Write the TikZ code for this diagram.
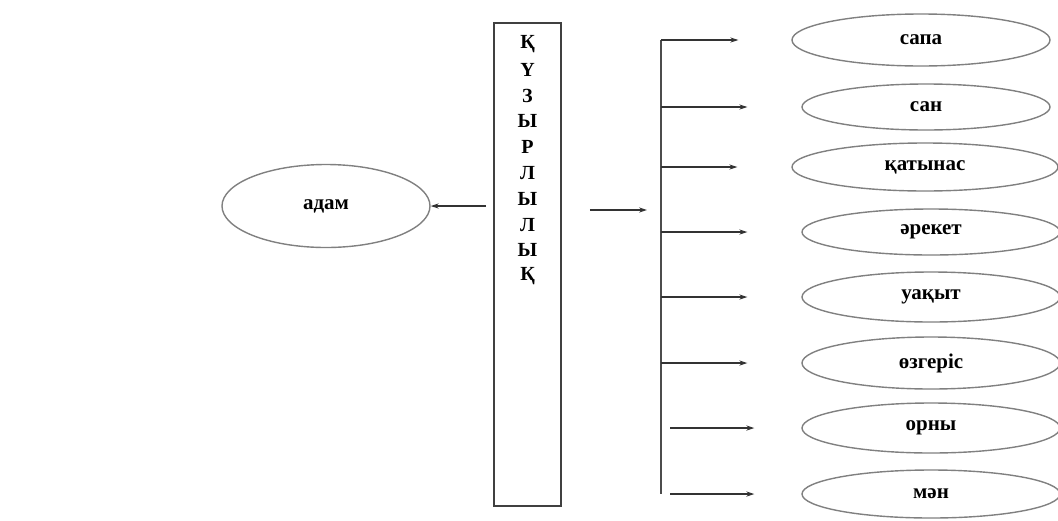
\documentclass[tikz,border=0pt]{standalone}
\usepackage{fontspec}
\setmainfont{Liberation Serif}
\usetikzlibrary{arrows.meta,shapes.geometric}
\begin{document}
\begin{tikzpicture}[x=0.5pt,y=-0.5pt,
		oval/.style={draw=black!50,line width=0.7pt,ellipse,inner sep=0pt,font=\bfseries\fontsize{10.5}{12}\selectfont},
		arr/.style={draw=black!80,line width=0.7pt,-{Stealth[length=4pt,width=2.6pt]}},
		spine/.style={draw=black!70,line width=0.7pt},
		letter/.style={inner sep=0pt,font=\bfseries\fontsize{10}{12}\selectfont}]
		\useasboundingbox (0,0) rectangle (1058,520);
		% the tall box with the word
		\node[draw=black!75,line width=0.9pt,minimum width=33.5pt,minimum height=241.5pt,inner sep=0pt] (box) at (527.5,264.5) {};
		\foreach \l [count=\i] in {Қ,Ү,З,Ы,Р,Л,Ы,Л,Ы,Қ}
			\node[letter] (l\i) at (527.5,{44+25.8*(\i-1)}) {\l};
	
		\node[oval,minimum width=104pt,minimum height=41.5pt] (adam) at (326,206) {адам};
	
		\node[oval,minimum width=129pt,minimum height=26pt] (sapa) at (921,40) {сапа};
		\node[oval,minimum width=124pt,minimum height=23pt] (san) at (926,107) {сан};
		\node[oval,minimum width=133pt,minimum height=24pt] (katynas) at (925,167) {қатынас};
		\node[oval,minimum width=129pt,minimum height=23pt] (areket) at (931,232) {әрекет};
		\node[oval,minimum width=129pt,minimum height=25pt] (uakyt) at (931,297) {уақыт};
		\node[oval,minimum width=129pt,minimum height=26pt] (ozgeris) at (931,363) {өзгеріс};
		\node[oval,minimum width=129pt,minimum height=25pt] (orny) at (931,428) {орны};
		\node[oval,minimum width=129pt,minimum height=24pt] (man) at (931,494) {мән};
	
		\coordinate (top) at (661,40);
		\coordinate (bot) at (661,494);
		\coordinate (fork) at (661,210);
	
		\draw[arr,shorten <=3.5pt] (box.west |- adam.east) -- (adam.east);
		\draw[arr,shorten <=14pt,shorten >=7pt] (box.east |- fork) -- (fork);
		\draw[spine] (top) -- (bot);
	
		\draw[arr] (top) -- ([xshift=-26.5pt]sapa.west);
		\foreach \e in {san,katynas,areket,uakyt,ozgeris}
			\draw[arr] (top |- \e.west) -- ([xshift=-27pt]\e.west);
		\foreach \e in {orny,man}
			\draw[arr] ([xshift=4.5pt]top |- \e.west) -- ([xshift=-23.5pt]\e.west);
	\end{tikzpicture}
\end{document}
